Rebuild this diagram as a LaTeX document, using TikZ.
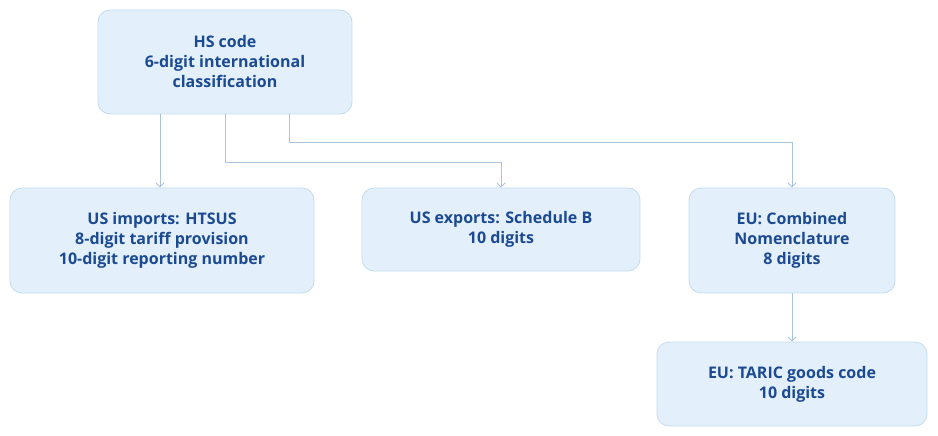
\documentclass[tikz,border=0pt]{standalone}
\usepackage{fontspec}
\setmainfont{Open Sans}
\usepackage{tikz}
\usetikzlibrary{positioning, arrows.meta}
\definecolor{boxfill}{HTML}{E3F0FB}
\definecolor{boxline}{HTML}{C3DBEF}
\definecolor{boxtext}{HTML}{1B4A93}
\definecolor{arrowc}{HTML}{A8C3DB}
\begin{document}
\begin{tikzpicture}[x=1pt, y=-1pt,
  box/.style={draw=boxline, fill=boxfill, rounded corners=12pt, line width=0.8pt,
    align=center, text=boxtext, font=\fontsize{16}{20}\selectfont\bfseries, inner sep=0pt},
  link/.style={draw=arrowc, line width=0.9pt, -{Straight Barb[length=4pt, width=8pt]}}]
\useasboundingbox (0,0) rectangle (938,436);
% classification boxes
\node[box, minimum width=254pt, minimum height=104pt] (hs) at (225,62)
  {HS code\\6-digit international\\classification};
\node[box, minimum width=304pt, minimum height=105pt] (htsus) at (162,240.5)
  {US imports: HTSUS\\8-digit tariff provision\\10-digit reporting number};
\node[box, minimum width=278pt, minimum height=83pt] (schb) at (501,229.5)
  {US exports: Schedule B\\10 digits};
\node[box, minimum width=206pt, minimum height=105pt] (cn) at (792,240.5)
  {EU: Combined\\Nomenclature\\8 digits};
\node[box, minimum width=270pt, minimum height=84pt] (taric) at (792,384)
  {EU: TARIC goods code\\10 digits};

% connectors
\draw[link] (hs.south -| htsus.north) ++(-2,0) -- ([xshift=-2pt]htsus.north);
\draw[link] (hs.south) -- (225,162) -| (schb.north);
\draw[link] ([xshift=64pt]hs.south) -- (289,142) -| (cn.north);
\draw[link] (cn.south) -- (taric.north);
\end{tikzpicture}
\end{document}
